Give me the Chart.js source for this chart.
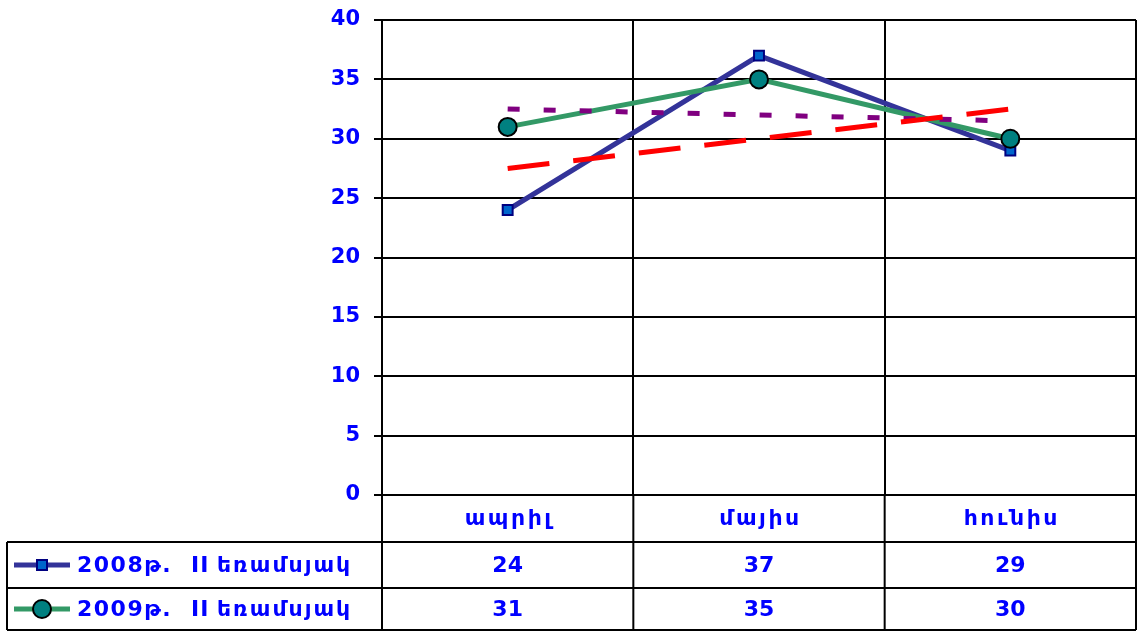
<!DOCTYPE html>
<html>
<head>
<meta charset="utf-8">
<script src="https://cdn.jsdelivr.net/npm/chart.js@4"></script>
<style>
  html, body { margin: 0; padding: 0; background: #fff; overflow: hidden; }
  canvas { display: block; }
</style>
</head>
<body>
<canvas id="chart" width="1140" height="632"></canvas>
<script>
// Data
const months = ["ապրիլ", "մայիս", "հունիս"];
const seriesNames = ["2008թ. II  եռամսյակ", "2009թ. II  եռամսյակ"];
const values2008 = [24, 37, 29];
const values2009 = [31, 35, 30];
const trend2008 = [27.5, 30, 32.5];
const trend2009 = [32.5, 32, 31.5];

const FONT = "'DejaVu Sans', 'Liberation Sans', Arial, sans-serif";
const BLUE_TXT = "#0000ff";

const styles = [
  { line: "#333399", fill: "#0066cc", border: "#000080", shape: "rect", r: 7 },
  { line: "#339966", fill: "#008080", border: "#000000", shape: "circle", r: 9 },
];

// category labels + data table under the plot
const tablePlugin = {
  id: "dataTable",
  afterDraw(chart) {
    const ctx = chart.ctx;
    const area = chart.chartArea;
    const x = chart.scales.x;
    const top = area.bottom + 47;
    const rows = [top, top + 46, top + 88];
    const left = 7;

    ctx.save();
    ctx.strokeStyle = "#000";
    ctx.lineWidth = 2;
    ctx.beginPath();
    rows.forEach((y) => {
      ctx.moveTo(left, y);
      ctx.lineTo(area.right, y);
    });
    ctx.moveTo(left, rows[0]);
    ctx.lineTo(left, rows[2]);
    // column separators
    const cols = [area.left];
    for (let i = 0; i < months.length; i++) {
      const c = x.getPixelForValue(i);
      const next = i < months.length - 1 ? x.getPixelForValue(i + 1) : null;
      cols.push(next !== null ? (c + next) / 2 : area.right);
    }
    cols.forEach((cx) => {
      ctx.moveTo(cx, area.bottom);
      ctx.lineTo(cx, rows[2]);
    });
    ctx.stroke();

    ctx.font = "bold 22px " + FONT;
    ctx.fillStyle = BLUE_TXT;
    ctx.textBaseline = "middle";

    // month labels (wider Armenian lettering)
    ctx.textAlign = "center";
    ctx.letterSpacing = "2.5px";
    months.forEach((m, i) => {
      ctx.fillText(m, x.getPixelForValue(i) + 1.5, area.bottom + 24);
    });
    ctx.letterSpacing = "0px";

    const tableData = [values2008, values2009];
    tableData.forEach((vals, r) => {
      const cy = (rows[r] + rows[r + 1]) / 2;
      const st = styles[r];
      // legend key
      ctx.strokeStyle = st.line;
      ctx.lineWidth = 5;
      ctx.beginPath();
      ctx.moveTo(14, cy);
      ctx.lineTo(70, cy);
      ctx.stroke();
      ctx.fillStyle = st.fill;
      ctx.strokeStyle = st.border;
      ctx.lineWidth = 2;
      ctx.beginPath();
      if (st.shape === "rect") {
        ctx.rect(42 - 5, cy - 5, 10, 10);
      } else {
        ctx.arc(42, cy, st.r, 0, Math.PI * 2);
      }
      ctx.fill();
      ctx.stroke();

      ctx.fillStyle = BLUE_TXT;
      ctx.textAlign = "left";
      const parts = seriesNames[r].split(/\s+/);
      const offs = [77, 191, 217];
      const spacing = ["1.5px", "1px", "2px"];
      parts.forEach((p, k) => {
        ctx.letterSpacing = spacing[k];
        ctx.fillText(p, offs[k], cy + 1);
      });
      ctx.letterSpacing = "0px";
      ctx.textAlign = "center";
      vals.forEach((v, i) => {
        ctx.fillText(String(v), x.getPixelForValue(i), cy + 1);
      });
    });
    ctx.restore();
  },
};

new Chart(document.getElementById("chart").getContext("2d"), {
  type: "line",
  data: {
    labels: months,
    datasets: [
      {
        label: "trend 2008",
        data: trend2008,
        borderColor: "#ff0000",
        borderWidth: 5,
        borderDash: [42, 24],
        pointRadius: 0,
        fill: false,
        order: 0,
      },
      {
        label: "trend 2009",
        data: trend2009,
        borderColor: "#800080",
        borderWidth: 5,
        borderDash: [12, 24],
        pointRadius: 0,
        fill: false,
        order: 1,
      },
      {
        label: seriesNames[1],
        data: values2009,
        borderColor: styles[1].line,
        borderWidth: 5,
        pointStyle: "circle",
        pointRadius: 9,
        pointBackgroundColor: styles[1].fill,
        pointBorderColor: styles[1].border,
        pointBorderWidth: 2,
        fill: false,
        order: 2,
      },
      {
        label: seriesNames[0],
        data: values2008,
        borderColor: styles[0].line,
        borderWidth: 5,
        pointStyle: "rect",
        pointRadius: 7,
        pointBackgroundColor: styles[0].fill,
        pointBorderColor: styles[0].border,
        pointBorderWidth: 2,
        fill: false,
        order: 3,
      },
    ],
  },
  options: {
    responsive: false,
    animation: false,
    layout: { autoPadding: false, padding: { top: 20, right: 4, left: 0, bottom: 0 } },
    plugins: {
      legend: { display: false },
      tooltip: { enabled: false },
    },
    scales: {
      x: {
        offset: true,
        grid: {
          offset: true,
          color: "#000",
          lineWidth: 2,
          drawTicks: false,
        },
        border: { display: true, color: "#000", width: 2 },
        ticks: { display: false },
        afterFit: (s) => {
          s.height = 137;
          s.paddingLeft = 0;
          s.paddingRight = 0;
        },
      },
      y: {
        min: 0,
        max: 40,
        ticks: {
          stepSize: 5,
          color: BLUE_TXT,
          font: { family: FONT, size: 21, weight: "bold" },
          padding: 14,
        },
        grid: { color: "#000", lineWidth: 2, tickLength: 8 },
        border: { display: true, color: "#000", width: 2 },
        afterFit: (s) => {
          s.width = 382;
          s.paddingTop = 0;
          s.paddingBottom = 0;
        },
      },
    },
  },
  plugins: [tablePlugin],
});
</script>
</body>
</html>
